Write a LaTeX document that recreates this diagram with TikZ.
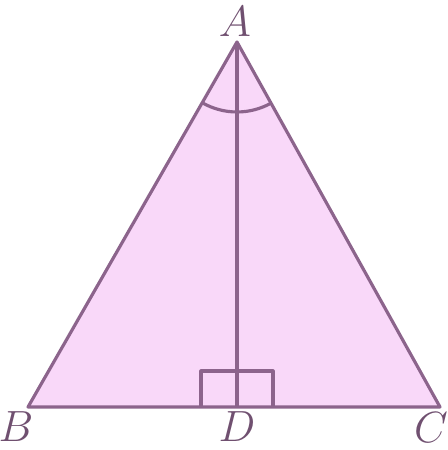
\documentclass[tikz,border=0pt]{standalone}
\usetikzlibrary{angles}
\definecolor{edgepurple}{RGB}{140,100,140}
\definecolor{fillpink}{RGB}{249,216,249}
\begin{document}
\begin{tikzpicture}[x=0.02cm, y=0.02cm, line join=round,
    side/.style={draw=edgepurple, line width=1.8pt},
    lbl/.style={text=edgepurple!80!black, inner sep=0pt, font=\fontsize{24}{28}\selectfont}]
        \useasboundingbox (0,0) rectangle (448,450);
        % vertices
        \coordinate (A) at (237,408);
        \coordinate (B) at (28,43);
        \coordinate (C) at (440,43);
        \coordinate (D) at (237,43);

        % triangle and altitude
        \fill[fillpink] (A) -- (B) -- (C) -- cycle;
        \draw[side] (A) -- (B) -- (C) -- cycle;
        \draw[side] (A) -- (D);

        % equal angles at A
        \pic[side, angle radius=1.4cm] {angle=B--A--D};
        \pic[side, angle radius=1.4cm] {angle=D--A--C};

        % right angles at D
        \draw[side] (D) ++(-36,0) -- ++(0,36) -- ++(72,0) -- ++(0,-36);

        % labels
        \node[lbl] (lA) at (235,428) {$A$};
        \node[lbl] (lB) at (16,23) {$B$};
        \node[lbl] (lD) at (237,23) {$D$};
        \node[lbl] (lC) at (431,22) {$C$};
    \end{tikzpicture}
\end{document}
